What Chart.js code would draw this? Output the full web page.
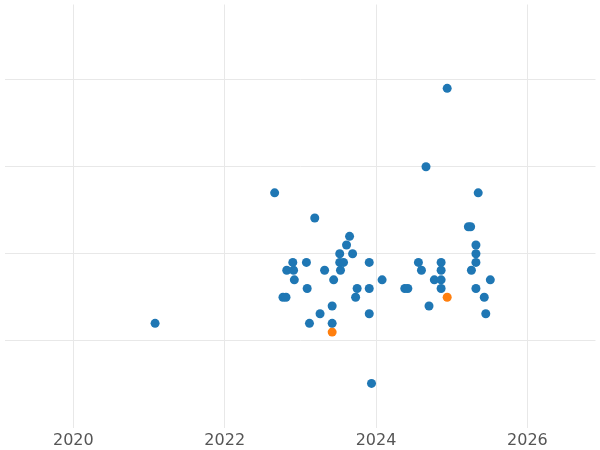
<!DOCTYPE html>
<html><head><script src="https://cdn.jsdelivr.net/npm/chart.js@4"></script>
<style>body{margin:0}#w{width:600px;height:450px}</style></head>
<body><div id="w"><canvas id="c"></canvas></div>
<script>
const blueX=[2021.08,2022.66,2022.77,2022.81,2022.82,2022.90,2022.91,2022.92,2023.08,2023.09,2023.12,2023.19,2023.26,2023.32,2023.42,2023.42,2023.44,2023.52,2023.52,2023.53,2023.57,2023.61,2023.65,2023.69,2023.73,2023.75,2023.91,2023.91,2023.91,2023.94,2024.08,2024.38,2024.42,2024.56,2024.60,2024.66,2024.70,2024.77,2024.86,2024.86,2024.86,2024.86,2024.94,2025.22,2025.25,2025.26,2025.32,2025.32,2025.32,2025.32,2025.35,2025.43,2025.45,2025.51];
const blueY=[1.20,2.70,1.50,1.50,1.81,1.90,1.81,1.70,1.90,1.60,1.20,2.41,1.31,1.81,1.40,1.20,1.70,2.00,1.90,1.81,1.90,2.10,2.20,2.00,1.50,1.60,1.90,1.60,1.31,0.51,1.70,1.60,1.60,1.90,1.81,3.00,1.40,1.70,1.90,1.81,1.70,1.60,3.90,2.31,2.31,1.81,2.10,2.00,1.90,1.60,2.70,1.50,1.31,1.70];
const orangeX=[2023.42,2024.94];
const orangeY=[1.10,1.50];
const xTicks=[2020,2022,2024,2026];
const pts=(xs,ys)=>xs.map((x,i)=>({x,y:ys[i]}));
new Chart(document.getElementById('c'),{type:'scatter',
data:{datasets:[
{data:pts(blueX,blueY),backgroundColor:'#1f77b4',borderWidth:0,pointRadius:4.5},
{data:pts(orangeX,orangeY),backgroundColor:'#ff7f0e',borderWidth:0,pointRadius:4.5}]},
options:{animation:false,responsive:true,maintainAspectRatio:false,
layout:{padding:{top:-4,left:-5,right:-5,bottom:-3}},
plugins:{legend:{display:false},tooltip:{enabled:false}},
scales:{
x:{type:'linear',min:2019.09,max:2026.9,border:{display:false},
 afterBuildTicks:a=>{a.ticks=xTicks.map(v=>({value:v}));},
 grid:{color:'#e8e8e8',drawTicks:false},
 ticks:{color:'#555',padding:3,font:{family:'DejaVu Sans',size:16},callback:v=>String(v)}},
y:{min:0,max:4.8636,border:{display:false},
 afterBuildTicks:a=>{a.ticks=[1,2,3,4].map(v=>({value:v}));},
 grid:{color:'#e8e8e8',drawTicks:false},
 ticks:{display:false}}}}});
</script></body></html>
